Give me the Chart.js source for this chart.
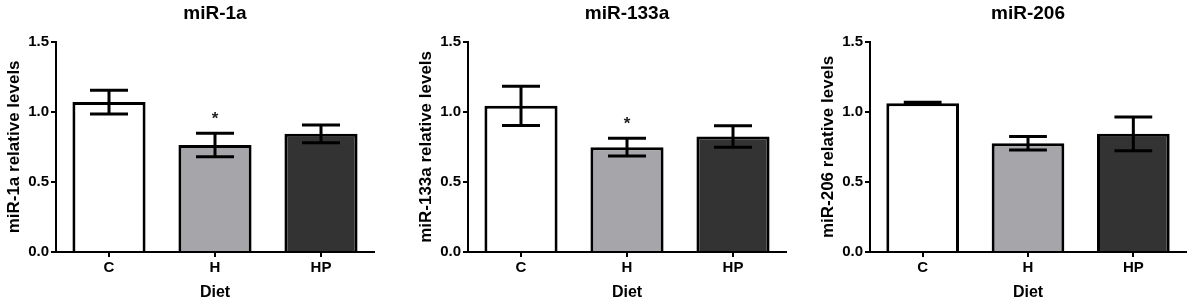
<!DOCTYPE html>
<html>
<head>
<meta charset="utf-8">
<script src="https://cdn.jsdelivr.net/npm/chart.js@4"></script>
<style>
  body { margin: 0; background: #fff; width: 1192px; height: 302px; position: relative; overflow: hidden; }
  canvas { position: absolute; top: 0; }
</style>
</head>
<body>
<canvas id="chart1" width="380" height="302" style="left:0px"></canvas>
<canvas id="chart2" width="380" height="302" style="left:412px"></canvas>
<canvas id="chart3" width="378" height="302" style="left:814px"></canvas>
<script>
// categorias e valores
const categories = ['C', 'H', 'HP'];
const yTicks = [0, 0.5, 1.0, 1.5];
const barColors = ['#ffffff', '#a6a6aa', '#333333'];

const mir1aMeans = [1.07, 0.764, 0.843];
const mir1aSem = [0.085, 0.084, 0.063];
const mir1aStars = ['', '*', ''];

const mir133aMeans = [1.043, 0.748, 0.824];
const mir133aSem = [0.14, 0.063, 0.077];
const mir133aStars = ['', '*', ''];

const mir206Means = [1.062, 0.776, 0.843];
const mir206Sem = [0.006, 0.048, 0.12];
const mir206Stars = ['', '', ''];

const fontFamily = '"Liberation Sans", Arial, sans-serif';

// barras de erro + asterisco
const errorBarPlugin = {
    id: 'errorBars',
    afterDatasetsDraw(chart, args, opts) {
        const ctx = chart.ctx;
        const yScale = chart.scales.y;
        const meta = chart.getDatasetMeta(0);
        meta.data.forEach((bar, i) => {
            const mean = opts.means[i];
            const sem = opts.sem[i];
            const yTop = yScale.getPixelForValue(mean + sem);
            const yBot = yScale.getPixelForValue(mean - sem);
            const half = bar.width * 0.26;
            ctx.save();
            ctx.strokeStyle = '#000';
            ctx.lineWidth = 3;
            ctx.beginPath();
            ctx.moveTo(bar.x, yTop);
            ctx.lineTo(bar.x, yBot);
            ctx.moveTo(bar.x - half, yTop);
            ctx.lineTo(bar.x + half, yTop);
            ctx.moveTo(bar.x - half, yBot);
            ctx.lineTo(bar.x + half, yBot);
            ctx.stroke();
            if (opts.stars[i]) {
                ctx.fillStyle = '#222';
                ctx.font = 'bold 17px ' + fontFamily;
                ctx.textAlign = 'center';
                ctx.textBaseline = 'middle';
                ctx.fillText(opts.stars[i], bar.x, yTop - 14);
            }
            ctx.restore();
        });
    }
};

function makeChart(canvasId, title, yLabel, means, sem, stars) {
    const ctx = document.getElementById(canvasId).getContext('2d');
    return new Chart(ctx, {
        type: 'bar',
        data: {
            labels: categories,
            datasets: [{
                data: means,
                backgroundColor: barColors,
                borderColor: '#000',
                borderWidth: 3,
                barPercentage: 0.69,
                categoryPercentage: 1.0
            }]
        },
        options: {
            responsive: false,
            animation: false,
            layout: { padding: { right: 6 } },
            plugins: {
                legend: { display: false },
                tooltip: { enabled: false },
                title: {
                    display: true,
                    text: title,
                    fullSize: false,
                    color: '#000',
                    font: { family: fontFamily, size: 19, weight: 'bold' },
                    padding: { top: 2, bottom: 17 }
                },
                errorBars: { means: means, sem: sem, stars: stars }
            },
            scales: {
                x: {
                    afterFit: (scale) => { scale.height = 50; },
                    grid: {
                        offset: false,
                        drawOnChartArea: false,
                        drawTicks: true,
                        tickLength: 5,
                        color: '#000',
                        lineWidth: 2
                    },
                    border: { color: '#000', width: 2 },
                    ticks: {
                        color: '#000',
                        padding: 2,
                        font: { family: fontFamily, size: 15, weight: 'bold' }
                    },
                    title: {
                        display: true,
                        text: 'Diet',
                        color: '#000',
                        font: { family: fontFamily, size: 16, weight: 'bold' },
                        padding: { top: 4, bottom: 0 }
                    }
                },
                y: {
                    min: 0,
                    max: 1.5,
                    afterFit: (scale) => { scale.width = 56; },
                    afterBuildTicks: (scale) => {
                        scale.ticks = yTicks.map(v => ({ value: v }));
                    },
                    grid: {
                        drawOnChartArea: false,
                        drawTicks: true,
                        tickLength: 5,
                        color: '#000',
                        lineWidth: 2
                    },
                    border: { color: '#000', width: 2 },
                    ticks: {
                        color: '#000',
                        padding: 2,
                        font: { family: fontFamily, size: 15, weight: 'bold' },
                        callback: (v) => Number(v).toFixed(1)
                    },
                    title: {
                        display: true,
                        text: yLabel,
                        color: '#000',
                        font: { family: fontFamily, size: 17, weight: 'bold' },
                        padding: { top: 4, bottom: 0 }
                    }
                }
            }
        },
        plugins: [errorBarPlugin]
    });
}

makeChart('chart1', 'miR-1a', 'miR-1a relative levels', mir1aMeans, mir1aSem, mir1aStars);
makeChart('chart2', 'miR-133a', 'miR-133a relative levels', mir133aMeans, mir133aSem, mir133aStars);
makeChart('chart3', 'miR-206', 'miR-206 relative levels', mir206Means, mir206Sem, mir206Stars);
</script>
</body>
</html>
